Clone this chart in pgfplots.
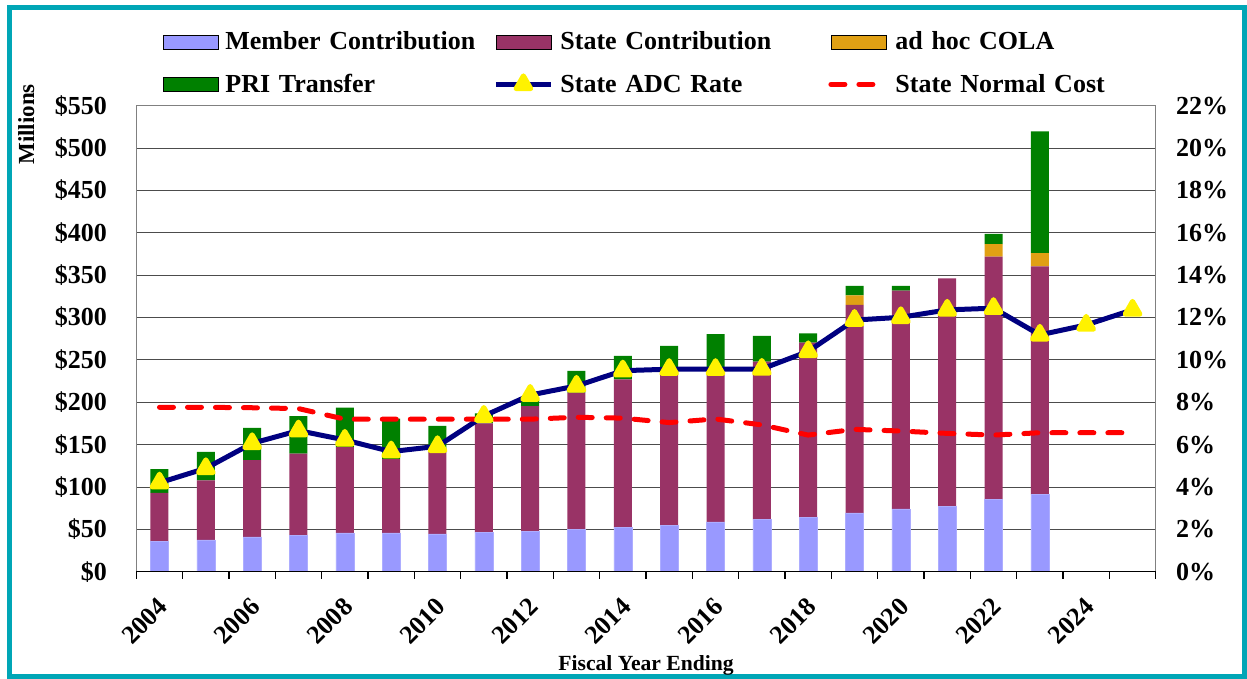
\documentclass[border=0pt]{standalone}
\usepackage{pgfplots}
\pgfplotsset{compat=1.18}
\usepackage{fontspec}
\setmainfont{Liberation Serif}

\definecolor{member}{RGB}{153,153,255}
\definecolor{state}{RGB}{153,51,102}
\definecolor{cola}{RGB}{224,160,20}
\definecolor{pri}{RGB}{0,128,0}
\definecolor{adc}{RGB}{0,0,128}
\definecolor{framecol}{RGB}{0,166,182}

\pgfplotsset{
  base/.style={
    at={(136.3pt,107.3pt)}, anchor=south west, scale only axis,
    width=1019.4pt, height=466pt,
    xmin=2003.5, xmax=2025.5,
    /pgf/number format/assume math mode=true,
    tick label style={font=\fontsize{26}{31}\selectfont\bfseries},
  },
  barlegend/.style={legend image code/.code={\fill[##1] (0pt,-7pt) rectangle (55pt,7pt);}},
  linelegend/.style={legend image code/.code={\draw[##1, mark repeat=2, mark phase=2] plot coordinates {(0pt,0pt) (27.5pt,0pt) (55pt,0pt)};}},
}

\begin{document}
\begin{tikzpicture}
\useasboundingbox (0,0) rectangle (1247pt,679pt);
\draw[framecol, line width=5pt] (9pt,2.5pt) rectangle (1244.5pt,671.5pt);

% bars, left axis (millions)
\begin{axis}[base,
  ybar stacked, bar width=18pt,
  ymin=0, ymax=550, ytick={0,50,...,550},
  yticklabel={\$\pgfmathprintnumber{\tick}},
  yticklabel style={xshift=-26pt},
  ymajorgrids, grid style={gray!60!black, line width=0.8pt},
  xtick=\empty, major tick length=0pt,
  axis line style={gray, line width=1.5pt},
  ylabel={Millions},
  ylabel style={at={(axis description cs:-0.108,0.96)}, anchor=center,
    font=\fontsize{23}{28}\selectfont\bfseries},
]
% member contribution
\addplot[fill=member, draw=member!80!white, line width=0.6pt] coordinates {
(2004,36) (2005,37.6) (2006,41) (2007,42.7) (2008,45.8) (2009,45.8) (2010,44.6)
(2011,46) (2012,47.2) (2013,49.6) (2014,52.4) (2015,55.1) (2016,58.7) (2017,61.4)
(2018,64) (2019,69.3) (2020,74) (2021,76.7) (2022,85.4) (2023,90.9)};
% state contribution
\addplot[fill=state, draw=none] coordinates {
(2004,57) (2005,70.1) (2006,90.6) (2007,96.8) (2008,101.1) (2009,87) (2010,100.4)
(2011,129) (2012,148.3) (2013,161.7) (2014,174.6) (2015,178.9) (2016,179.3) (2017,186.6)
(2018,206.5) (2019,245.5) (2020,257.6) (2021,269.5) (2022,286.4) (2023,269.5)};
% ad hoc COLA
\addplot[fill=cola, draw=none] coordinates {
(2004,0) (2005,0) (2006,0) (2007,0) (2008,0) (2009,0) (2010,0)
(2011,0) (2012,0) (2013,0) (2014,0) (2015,0) (2016,0) (2017,0)
(2018,0) (2019,11.4) (2020,0) (2021,0) (2022,14.9) (2023,15.7)};
% PRI transfer
\addplot[fill=pri, draw=none] coordinates {
(2004,28) (2005,33.7) (2006,38) (2007,44.2) (2008,46.6) (2009,47.8) (2010,27)
(2011,12) (2012,7.1) (2013,25.6) (2014,27.6) (2015,32.4) (2016,42.4) (2017,30.2)
(2018,10.8) (2019,11) (2020,5.6) (2021,0) (2022,11.9) (2023,143.6)};
\end{axis}

% lines, right axis (percent)
\begin{axis}[base,
  ymin=0, ymax=22, ytick={0,2,...,22},
  yticklabel={\pgfmathprintnumber{\tick}\%},
  yticklabel style={anchor=west, xshift=17pt},
  axis x line*=bottom, axis y line*=right,
  x axis line style={black, line width=1.2pt, -},
  y axis line style={draw=none},
  /pgf/number format/1000 sep={},
  xtick={2004,2006,...,2024},
  minor xtick={2003.5,2004.5,...,2025.5},
  major tick length=0pt, minor tick length=7pt, tick align=outside,
  minor tick style={black, line width=1.2pt},
  xticklabel style={rotate=45, anchor=north east, yshift=-12pt, xshift=-16pt},
  xlabel={Fiscal Year Ending},
  xlabel style={at={(axis description cs:0.5,-0.2)}, anchor=center,
    font=\fontsize{21.6}{26}\selectfont\bfseries},
  legend columns=3,
  legend style={at={(axis description cs:0.026,1.163)}, anchor=north west,
    draw=none, fill=none, inner sep=0pt, row sep=19pt,
    font=\fontsize{26}{31}\selectfont\bfseries,
    nodes={text width=261pt, align=left, inner xsep=7pt}},
]
\addlegendimage{barlegend, fill=member}
\addlegendentry{Member Contribution}
\addlegendimage{barlegend, fill=state}
\addlegendentry{State Contribution}
\addlegendimage{barlegend, fill=cola}
\addlegendentry{ad hoc COLA}
\addlegendimage{barlegend, fill=pri}
\addlegendentry{PRI Transfer}

\addplot[linelegend, adc, line width=5pt, line join=round,
  mark=triangle*, mark size=8.5pt, mark options={fill=yellow, draw=yellow, solid}]
  coordinates {
(2004,4.2) (2005,4.88) (2006,6.06) (2007,6.66) (2008,6.22) (2009,5.67) (2010,5.92)
(2011,7.35) (2012,8.34) (2013,8.77) (2014,9.49) (2015,9.56) (2016,9.56) (2017,9.57)
(2018,10.4) (2019,11.88) (2020,12.01) (2021,12.36) (2022,12.44) (2023,11.18)
(2024,11.65) (2025,12.36)};
\addlegendentry{State ADC Rate}

\addplot[linelegend, red, line width=5pt, line cap=round, line join=round,
  dash pattern=on 14pt off 14pt]
  coordinates {
(2004,7.76) (2005,7.76) (2006,7.74) (2007,7.7) (2008,7.2) (2009,7.2) (2010,7.2)
(2011,7.2) (2012,7.2) (2013,7.29) (2014,7.25) (2015,7.04) (2016,7.21) (2017,6.93)
(2018,6.45) (2019,6.72) (2020,6.64) (2021,6.53) (2022,6.45) (2023,6.56)
(2024,6.56) (2025,6.56)};
\addlegendentry{State Normal Cost}
\end{axis}
\end{tikzpicture}
\end{document}
